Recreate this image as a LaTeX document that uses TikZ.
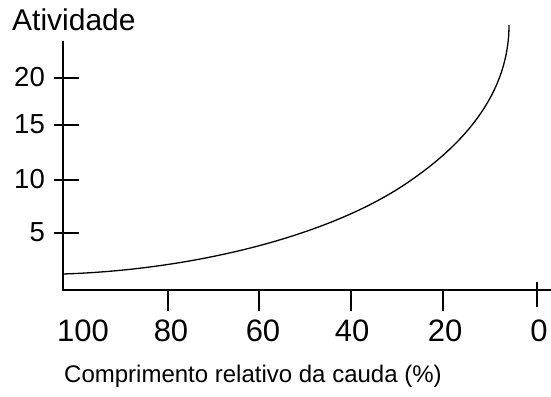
\documentclass[tikz,border=0pt]{standalone}
\usepackage{fontspec}
\setmainfont{Liberation Sans}
\begin{document}
\begin{tikzpicture}[x=1pt,y=-1pt,
  axis/.style={line width=1.3pt,black},
  tick/.style={line width=1.3pt,black},
  curve/.style={line width=1.3pt,black},
  ylab/.style={anchor=east,inner sep=0pt,font=\fontsize{27.5}{27.5}\selectfont},
  xlab/.style={anchor=base,inner sep=0pt,font=\fontsize{31}{31}\selectfont},
  title/.style={anchor=base west,inner sep=0pt}]
\useasboundingbox (0,0) rectangle (551,396);
% axes
\coordinate (ytop) at (63,41);
\coordinate (o) at (63,290);
\coordinate (xend) at (551,290);
\draw[axis] (ytop) -- (o) -- (xend);
% y ticks
\foreach \yy/\lab/\n in {78/20/a,125/15/b,180/10/c,233/5/d}{
  \coordinate (yt\n l) at (54,\yy);
  \coordinate (yt\n r) at (79,\yy);
  \draw[tick] (yt\n l) -- (yt\n r);
  \node[ylab] (yl\n) at (45,\yy-0.5) {\lab};
}
% x ticks
\foreach \xx/\n in {168/a,259/b,351/c,443/d}{
  \coordinate (xt\n t) at (\xx,290);
  \coordinate (xt\n b) at (\xx,311);
  \draw[tick] (xt\n t) -- (xt\n b);
}
\coordinate (xtet) at (537,282);
\coordinate (xteb) at (537,307);
\draw[tick] (xtet) -- (xteb);
% x labels
\foreach \xx/\lab/\n in {83/100/a,171/80/b,263/60/c,352/40/d,445/20/e,539/0/f}{
  \node[xlab] (xl\n) at (\xx,341) {\lab};
}
% curve
\coordinate (c0) at (63,274);
\coordinate (c1) at (407,183);
\coordinate (c2) at (509,25);
\draw[curve] (c0) .. controls (190,270) and (327,237.4) .. (c1)
  .. controls (447,155.8) and (509,105) .. (c2);
% titles
\node[title,font=\fontsize{30}{30}\selectfont] (ytitle) at (12,31) {Atividade};
\node[title,font=\fontsize{24}{24}\selectfont] (xtitle) at (64,382) {Comprimento relativo da cauda (\%)};
\end{tikzpicture}
\end{document}
